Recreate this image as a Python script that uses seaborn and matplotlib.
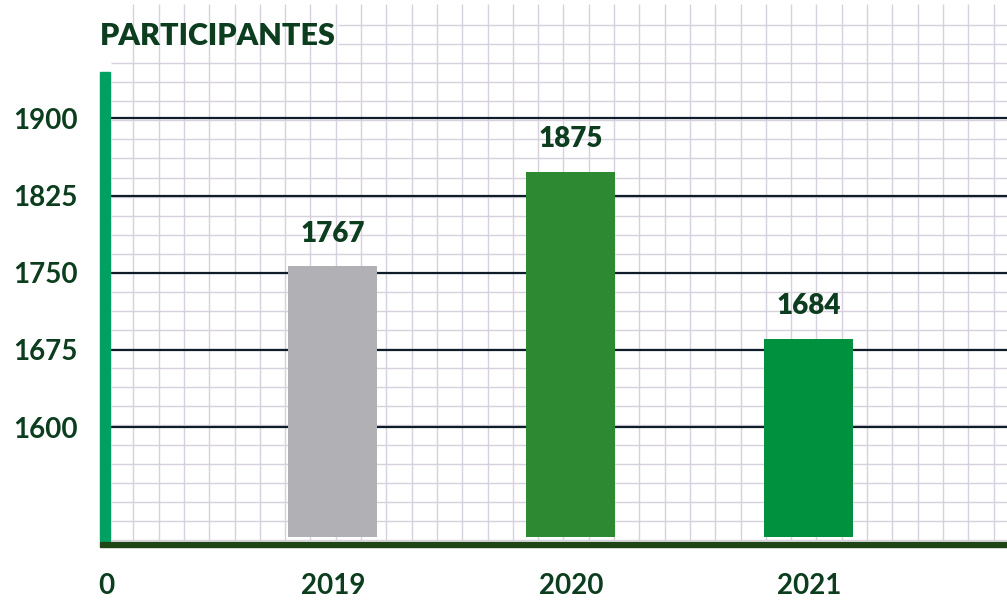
import matplotlib
matplotlib.use("Agg")
import matplotlib.pyplot as plt
import seaborn as sns
import pandas as pd
import numpy as np

# ---- data ----
years = ["2019", "2020", "2021"]
participants = [1767, 1875, 1684]
bar_colors = ["#b1b0b5", "#2e8a32", "#00913f"]
y_ticks = [1600, 1675, 1750, 1825, 1900]
title = "PARTICIPANTES"

DARK = "#0b3d1e"
W, H = 1007, 600

sns.set_theme(style="white")
plt.rcParams["font.family"] = ["Lato", "DejaVu Sans"]

fig = plt.figure(figsize=(W / 100, H / 100), dpi=100)
fig.patch.set_facecolor("white")

# ---- background graph-paper grid (decoration, pixel coords) ----
bg = fig.add_axes([0, 0, 1, 1], zorder=0)
bg.set_xlim(0, W)
bg.set_ylim(H, 0)
bg.axis("off")
gc = "#d6d1dc"
xs = np.arange(133.3, W, 25.3)
bg.vlines(xs, 4, 540, color=gc, lw=1.0)
ys = np.arange(25, 540, 19.07)
for yy in ys:
    x0 = 338 if yy < 55 else 111
    bg.hlines(yy, x0, W, color=gc, lw=1.0)

rect = [110 / W, (H - 537) / H, (W - 110) / W, (537 - 72) / H]

# ---- bars ----
df = pd.DataFrame({"year": years, "value": participants})
ax = fig.add_axes(rect, zorder=2)
ax.patch.set_alpha(0)
sns.barplot(data=df, x="year", y="value", hue="year", palette=bar_colors,
            width=0.374, legend=False, saturation=1, linewidth=0, ax=ax)
ax.set_xlim(-0.9363, 2.8327)
ax.set_ylim(1457.2, 1989.3)
for c in ax.containers:
    ax.bar_label(c, fmt="%d", padding=14, fontsize=20, fontweight="heavy",
                 color=DARK)
ax.set_xlabel("")
ax.set_ylabel("")
ax.set_yticks([])
ax.tick_params(axis="x", length=0, pad=26, labelsize=20, labelcolor=DARK)
for lab in ax.get_xticklabels():
    lab.set_fontweight("bold")
for s in ax.spines.values():
    s.set_visible(False)

# ---- value axis with dark gridlines ----
ax2 = fig.add_axes(rect, zorder=1)
ax2.patch.set_alpha(0)
ax2.set_xlim(0, 1)
ax2.set_ylim(1493.3, 1945.1)
ax2.set_yticks(y_ticks)
ax2.set_xticks([])
ax2.grid(axis="y", color="#0f1d2b", lw=1.6)
ax2.tick_params(axis="y", length=0, pad=23, labelsize=20, labelcolor=DARK)
for lab in ax2.get_yticklabels():
    lab.set_fontweight("bold")
for s in ax2.spines.values():
    s.set_visible(False)

# ---- left green bar and bottom axis line ----
fig.patches.append(plt.Rectangle((100 / W, (H - 541) / H), 10 / W, (541 - 72) / H,
                                 transform=fig.transFigure, color="#00a062", zorder=3))
fig.patches.append(plt.Rectangle((100 / W, (H - 547) / H), (W - 100) / W, 5 / H,
                                 transform=fig.transFigure, color="#1f4516", zorder=3))

# ---- texts ----
fig.text(106 / W, 1 - 586 / H, "0", ha="center", va="center", fontsize=20,
         fontweight="bold", color=DARK)
fig.text(100 / W, 1 - 45 / H, title, ha="left", va="baseline", fontsize=22,
         fontweight="heavy", color=DARK)

fig.savefig("out.png", dpi=100, facecolor="white")
